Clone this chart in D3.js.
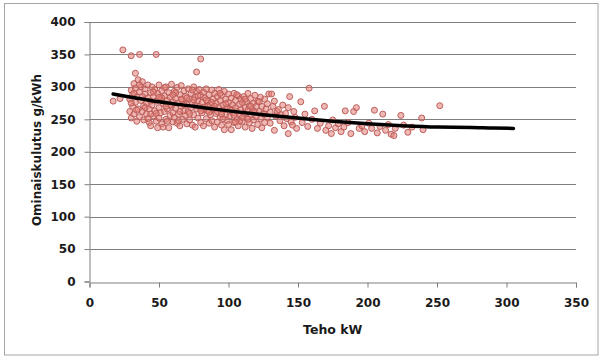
<!DOCTYPE html>
<html><head><meta charset="utf-8">
<script src="https://cdn.jsdelivr.net/npm/d3@7"></script>
<style>
html,body{margin:0;padding:0;background:#fff;}
svg text{font-family:"DejaVu Sans",Verdana,sans-serif;font-weight:bold;fill:#1a1a1a;}
</style></head>
<body>
<script>
const xTicks = [0,50,100,150,200,250,300,350];
const yTicks = [0,50,100,150,200,250,300,350,400];
const xTitle = "Teho kW";
const yTitle = "Ominaiskulutus g/kWh";

const outlierPoints = [[17,278],[22,282],[24,357],[30,348],[36,350],[48,350],[77,323],[80,343]];
const clusterPoints = [
[29,262],[29,281],[30,295],[30,252],[31,270],[31,288],[32,305],[32,258],[33,276],[33,298],[34,247],[34,285],[35,311],[35,266],[33,321],[36,292],[36,254],[37,279],[37,300],[38,308],[38,262],[39,271],[39,249],[40,289],
[40,297],[41,258],[41,275],[42,303],[42,283],[43,245],[43,266],[44,291],[44,240],[45,272],[45,300],[46,255],[46,285],[47,263],[47,296],[48,278],[48,247],[49,237],[49,290],[50,268],[50,303],[50,252],[51,281],[51,260],
[52,294],[52,243],[53,238],[53,274],[54,286],[54,262],[55,300],[55,250],[56,279],[56,266],[57,237],[57,291],[58,256],[58,284],[59,270],[59,304],[60,246],[60,277],[60,260],
[61,293],[61,253],[62,282],[62,267],[63,299],[63,244],[64,275],[64,258],[65,288],[65,240],[66,270],[66,302],[67,250],[67,280],[68,263],[68,294],[69,256],[69,285],[70,273],[70,243],
[71,297],[71,262],[72,281],[72,249],[73,268],[73,290],[74,241],[74,276],[75,300],[75,257],[76,238],[76,284],[77,266],[77,293],[78,252],[78,279],[79,270],[79,296],[80,245],[80,287],
[81,260],[81,276],[82,292],[82,240],[83,269],[83,283],[84,251],[84,297],[85,263],[85,278],[86,244],[86,288],[87,257],[87,272],[88,295],[88,248],[89,266],[89,281],[90,238],[90,290],
[91,259],[91,275],[92,285],[92,246],[93,268],[93,296],[94,253],[94,279],[95,241],[95,287],[96,264],[96,272],[97,234],[97,293],[98,257],[98,281],[99,248],[99,268],[100,276],[100,289],
[101,255],[101,266],[102,234],[102,283],[103,260],[103,272],[104,245],[104,290],[105,268],[105,279],[106,251],[106,262],[107,286],[107,240],[108,273],[108,257],[109,281],[109,265],[110,247],[110,276],
[111,285],[111,259],[112,268],[112,238],[113,277],[113,252],[114,264],[114,290],[115,245],[115,271],[116,282],[116,258],[117,236],[117,266],[118,275],[118,249],[119,287],[119,261],[120,270],[120,254],
[121,278],[121,242],[122,262],[123,284],[123,251],[124,237],[124,270],[125,259],[126,281],[126,245],[127,266],[128,274],[128,253],[129,289],[130,261],[130,244],
[30,275],[32,290],[34,264],[36,303],[38,285],[40,268],[42,251],[44,278],[46,292],[48,259],[52,283],[54,299],[56,247],[58,272],[62,291],[64,248],[66,281],[68,273],[72,259],[74,295],[76,271],[78,286],[82,265],[84,280],[86,261],[88,276],[92,262],[94,290],[96,251],[98,274],[102,264],[104,256],[106,288],[108,247],[112,281],[114,250],[116,270],[118,262],[122,277],[126,258],
[44,258],[50,284],[60,288],[70,283],[80,263],[90,270],[100,242],[110,253],[55,270],[65,262],[75,280],[85,270],[95,258],[105,246],
[131,289],[132,270],[133,278],[133,233],[134,255],[135,262],[136,265],[137,248],[138,257],[139,272],[140,240],[141,259],[142,251],[143,268],[143,228],[144,285],[145,246],[146,241],[147,262],[148,253],[149,236],
[152,277],[153,245],[155,258],[157,239],[158,298],[160,250],[162,263],[164,236],[166,244],[169,270],[170,233],[172,240],[174,228],[175,249],[177,237],[179,243],[181,231],[183,238],[184,263],[186,245],[188,228],[190,262],[192,268],[194,236],[196,240],[198,231],
[201,244],[203,236],[205,264],[207,229],[209,239],[211,258],[213,233],[215,242],[217,227],[219,225],[220,236],[224,256],[226,241],[229,230],[232,238],[239,252],[240,234],[252,271]
];
const trendX = [17,30,50,75,100,125,150,175,200,225,250,275,290,305];
const trendY = [289,284,277,270,263,257,252,247,243,240,238,237.5,236.5,236];

const W = 603, H = 358;
const svg = d3.select("body").append("svg").attr("width", W).attr("height", H);

svg.append("rect").attr("x",4.5).attr("y",3.5).attr("width",593.5).attr("height",351.5)
  .attr("fill","#fff").attr("stroke","#a6a6a6").attr("stroke-width",1);

const x = d3.scaleLinear().domain([0,350]).range([89.5,576]);
const y = d3.scaleLinear().domain([0,400]).range([281.5,22]);

svg.append("g").selectAll("line").data(yTicks.filter(d=>d>0)).join("line")
  .attr("x1",x(0)).attr("x2",x(350))
  .attr("y1",d=>Math.round(y(d))+0.5).attr("y2",d=>Math.round(y(d))+0.5)
  .attr("stroke","#7f7f7f").attr("stroke-width",1);

const yAxis = svg.append("g").attr("transform",`translate(${x(0)},0)`)
  .call(d3.axisLeft(y).tickValues(yTicks).tickSize(5).tickPadding(9).tickFormat(d3.format("d")));
const xAxis = svg.append("g").attr("transform",`translate(0,${Math.round(y(0))+0.5})`)
  .call(d3.axisBottom(x).tickValues(xTicks).tickSize(5).tickPadding(11).tickFormat(d3.format("d")));
[yAxis,xAxis].forEach(a=>{
  a.select(".domain").attr("stroke","#7f7f7f");
  a.selectAll(".tick line").attr("stroke","#7f7f7f");
  a.selectAll("text").attr("font-size",12).attr("fill","#1a1a1a")
   .attr("font-family","'DejaVu Sans',Verdana,sans-serif").attr("font-weight","bold");
});

const allPts = clusterPoints.concat(outlierPoints);
svg.append("g").selectAll("circle").data(allPts).join("circle")
  .attr("cx",d=>x(d[0])).attr("cy",d=>y(d[1])).attr("r",3)
  .attr("fill","rgba(228,125,118,0.55)").attr("stroke","#bb5e5a").attr("stroke-width",1);

const line = d3.line().x(d=>x(d[0])).y(d=>y(d[1])).curve(d3.curveMonotoneX);
svg.append("path").datum(trendX.map((v,i)=>[v,trendY[i]])).attr("d",line)
  .attr("fill","none").attr("stroke","#000").attr("stroke-width",3.5).attr("stroke-linecap","round");

svg.append("text").attr("x",(x(0)+x(350))/2).attr("y",334).attr("text-anchor","middle")
  .attr("font-size",12.5).text(xTitle);
svg.append("text").attr("transform",`translate(41,150) rotate(-90)`).attr("text-anchor","middle")
  .attr("font-size",12).text(yTitle);
</script>
</body></html>
